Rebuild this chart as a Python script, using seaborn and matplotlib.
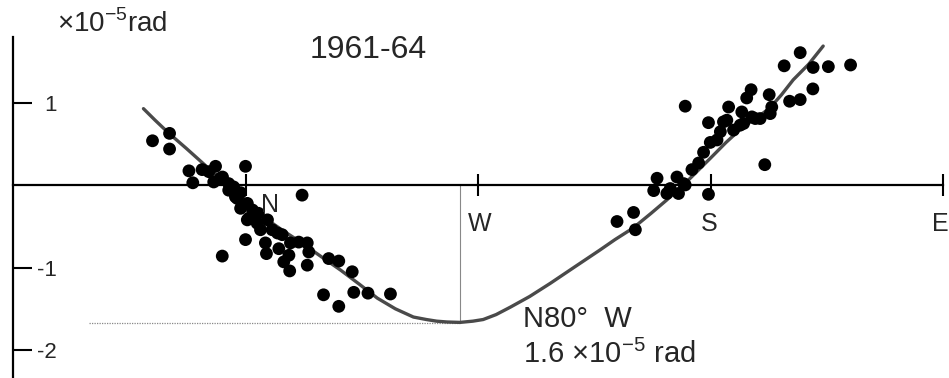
import numpy as np
import pandas as pd
import matplotlib
matplotlib.use("Agg")
import matplotlib.pyplot as plt
import seaborn as sns

# observed tilt, azimuth in degrees (N=0, W=90, S=180, E=270), value in 1e-5 rad
obs_az = [-36.0, -29.4, -29.4, -21.9, -20.4, -16.8, -14.2, -11.6, -12.3, -9.7,
          -6.5, -6.5, -3.2, -1.9, 0.0, 0.7, 1.3, 5.0, 4.5, 21.9,
          0.7, 0.0, 5.8, 7.7, 8.1, 10.3, 12.9, 14.2, 14.8, 16.8,
          17.1, 17.4, 20.6, 23.9, 24.5, 23.9, 32.2, 36.1, 41.3, 41.9,
          30.2, 36.1, 47.4, 56.1, -9.0, -4.6, 8.5, 12.4, -3.9, -8.9,
          -1.9, 2.7,
          143.8, 150.2, 150.9, 159.3, 158.0, 163.1, 167.0, 167.6, 169.6, 172.8,
          175.4, 177.3, 179.2, 179.9, 182.5, 183.8, 185.0, 179.2, 187.0, 188.9,
          192.1, 191.5, 194.0, 195.7, 196.0, 199.2, 202.7, 203.7, 203.1, 170.2,
          201.0, 214.7, 208.5, 219.7, 225.6, 234.2, 219.6, 210.6, 214.7, 186.3,
          192.8, 197.3, 164.4, 170.2]
obs_tilt = [0.54, 0.63, 0.44, 0.175, 0.03, 0.19, 0.165, 0.23, 0.04, 0.085,
            0.02, -0.06, -0.16, -0.28, 0.23, -0.22, -0.40, -0.34, -0.46, -0.12,
            -0.42, -0.66, -0.54, -0.70, -0.83, -0.54, -0.77, -0.60, -0.93, -0.85,
            -1.04, -0.70, -0.69, -0.70, -0.81, -0.97, -0.89, -0.92, -1.05, -1.30,
            -1.33, -1.47, -1.31, -1.32, -0.86, -0.02, -0.42, -0.58, -0.14, 0.10,
            -0.09, -0.30,
            -0.44, -0.33, -0.54, 0.085, -0.065, -0.10, 0.10, -0.10, 0.02, 0.19,
            0.27, 0.40, -0.11, 0.52, 0.55, 0.65, 0.77, 0.76, 0.95, 0.67,
            0.89, 0.73, 1.06, 1.16, 0.83, 0.81, 1.10, 0.95, 0.87, 0.96,
            0.25, 1.61, 1.45, 1.43, 1.44, 1.46, 1.17, 1.02, 1.04, 0.79,
            0.75, 0.81, -0.04, 0.004]

# fitted curve
fit_az = [-39.5, -35.0, -29.8, -23.0, -16.6, -8.0, -4.0, 0.0, 8.5, 14.0,
          21.3, 29.0, 36.8, 44.0, 51.0, 58.0, 65.0, 70.0, 74.0, 78.0,
          83.0, 88.0, 92.0, 97.0, 102.5, 110.0, 118.0, 127.0, 137.0, 143.0,
          150.0, 157.0, 163.0, 171.0, 180.0, 186.0, 192.6, 198.0, 203.0, 207.5,
          212.0, 218.0, 223.6]
fit_tilt = [0.93, 0.79, 0.635, 0.45, 0.27, 0.03, -0.09, -0.20, -0.42, -0.54,
            -0.69, -0.86, -1.03, -1.20, -1.37, -1.50, -1.60, -1.63, -1.65, -1.66,
            -1.665, -1.65, -1.63, -1.57, -1.48, -1.35, -1.19, -1.00, -0.79, -0.66,
            -0.52, -0.34, -0.18, 0.05, 0.33, 0.52, 0.71, 0.82, 0.94, 1.10,
            1.28, 1.47, 1.69]

dir_labels = ["N", "W", "S", "E"]
dir_az = [0, 90, 180, 270]
min_az = 83.0
min_tilt = -1.67

obs = pd.DataFrame({"az": obs_az, "tilt": obs_tilt})
fit = pd.DataFrame({"az": fit_az, "tilt": fit_tilt})

sns.set_style("white")
plt.rcParams["font.family"] = ["Liberation Sans", "DejaVu Sans"]
plt.rcParams["mathtext.fontset"] = "custom"
plt.rcParams["mathtext.rm"] = "Liberation Sans"
plt.rcParams["axes.unicode_minus"] = False

fig = plt.figure(figsize=(9.49, 3.78), dpi=100)
ax = fig.add_axes([13 / 949, 0.0, 1 - 13 / 949, 1 - 37 / 378])

# guide lines to the minimum
ax.plot([-60.7, min_az], [min_tilt, min_tilt], color="#888888", lw=0.9, ls=(0, (1, 1)))
ax.plot([min_az, min_az], [0, min_tilt], color="#888888", lw=0.8)

sns.lineplot(data=fit, x="az", y="tilt", color="#4a4a4a", lw=2.4, sort=False, ax=ax)
sns.scatterplot(data=obs, x="az", y="tilt", color="black", s=85, edgecolor="none",
                ax=ax, zorder=3)

ax.set_xlim(-90, 272.3)
ax.set_ylim(-2.34, 1.80)
ax.set_xlabel("")
ax.set_ylabel("")

for side in ["top", "right"]:
    ax.spines[side].set_visible(False)
ax.spines["bottom"].set_position(("data", 0))
ax.spines["bottom"].set_bounds(-90, 270)
ax.spines["bottom"].set_linewidth(1.6)
ax.spines["left"].set_linewidth(1.6)
ax.spines["bottom"].set_color("black")
ax.spines["left"].set_color("black")

ax.set_xticks(dir_az)
ax.set_xticklabels([])
ax.tick_params(axis="x", bottom=True, direction="inout", length=16, width=1.5,
               color="black")
ax.set_yticks([1, -1, -2])
ax.set_yticklabels(["1", "-1", "-2"])
ax.tick_params(axis="y", left=True, direction="in", length=14, width=1.5,
               color="black", pad=-31.5, labelsize=16)

# direction names
ax.text(9.3, -0.33, "N", fontsize=18, ha="center", va="baseline")
ax.text(90.5, -0.56, "W", fontsize=18, ha="center", va="baseline")
ax.text(179.5, -0.56, "S", fontsize=18, ha="center", va="baseline")
ax.text(272.3, -0.56, "E", fontsize=18, ha="right", va="baseline")

ax.text(107.5, -1.72, "N80°  W", fontsize=21, ha="left", va="baseline")
ax.text(107.5, -2.16, "1.6 $\\times$10$^{-5}$ rad", fontsize=21, ha="left", va="baseline")

fig.text(57 / 949, 1 - 32 / 378, "$\\times$10$^{-5}$rad", fontsize=20, ha="left", va="baseline")
fig.text(310 / 949, 1 - 58 / 378, "1961-64", fontsize=23, ha="left", va="baseline")

fig.savefig("out.png", dpi=100)
